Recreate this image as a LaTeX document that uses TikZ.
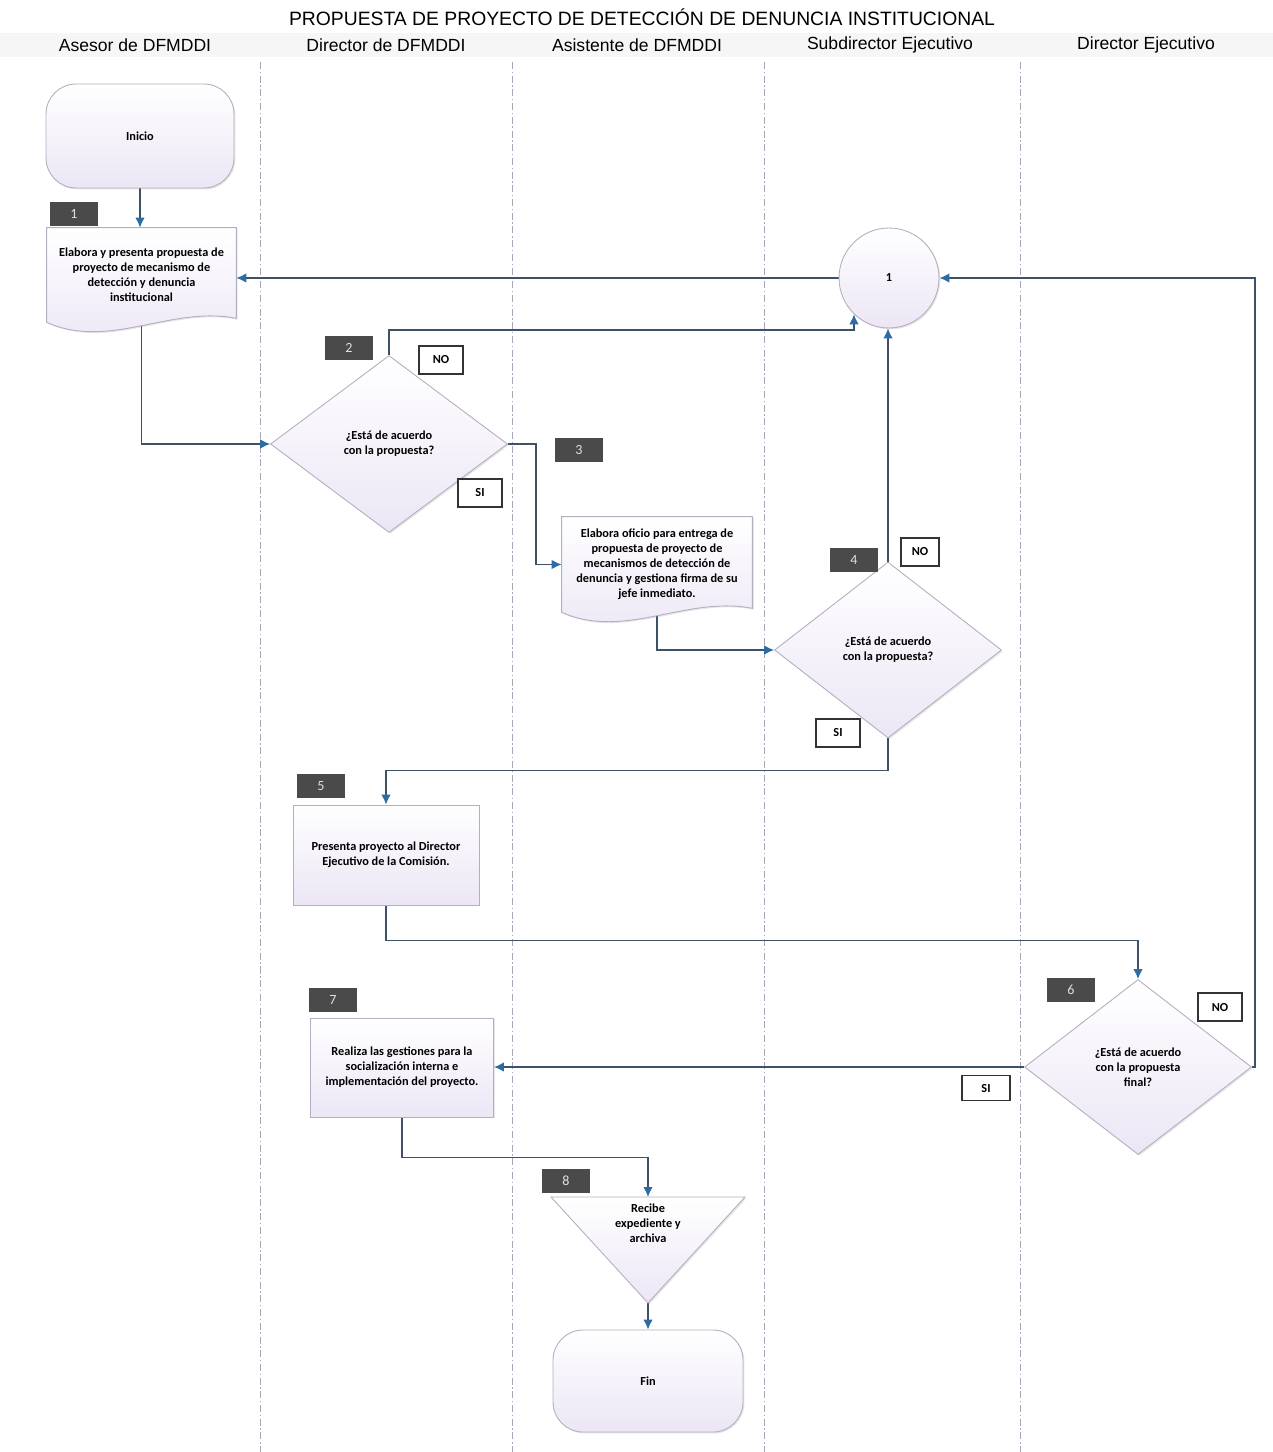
\documentclass[tikz,border=0pt]{standalone}
\usepackage{fontspec}
\setmainfont{Carlito}
\newfontfamily\arialfam{Liberation Sans}
\usepackage{tikz}
\usetikzlibrary{positioning, arrows.meta, shapes.geometric, shapes.misc, calc, backgrounds, shadows}
\definecolor{conector}{HTML}{3D5266}
\definecolor{punta}{HTML}{2C6CA3}
\definecolor{etiqueta}{HTML}{4A4A4A}
\definecolor{borde}{HTML}{B4AEC0}
\definecolor{relleno}{HTML}{ECE6F5}
\definecolor{colorcarril}{HTML}{A9A6B8}
\tikzset{
	>={Latex[length=2mm, width=1.9mm, color=punta]},
	% texto de las formas
	textoforma/.style={font=\bfseries\fontsize{7}{8.5}\selectfont, align=center, text=black},
	% relleno con degradado
	degradado/.style={top color=white, bottom color=relleno, draw=borde, line width=0.5pt,
	                  drop shadow={shadow xshift=0.8pt, shadow yshift=-0.8pt, opacity=0.2}},
	% inicio / fin
	terminal/.style={degradado, textoforma, rectangle, rounded corners=0.6cm,
	                 minimum width=3.76cm, minimum height=2.08cm},
	% actividad
	actividad/.style={degradado, textoforma, rectangle, minimum width=3.7cm, minimum height=2cm},
	% documento: solo el texto, el contorno va aparte
	documento/.style={textoforma, rectangle, minimum width=3.8cm, minimum height=1.9cm, inner sep=1pt},
	% decision
	decision/.style={degradado, textoforma, diamond, minimum width=4.54cm, minimum height=3.52cm,
	                 inner sep=0pt},
	% conector de pagina
	enlace/.style={degradado, textoforma, circle, minimum size=2cm},
	% numero de paso
	paso/.style={rectangle, fill=etiqueta, text=gray!25, minimum width=0.96cm, minimum height=0.48cm,
	             inner sep=0pt, font=\fontsize{8}{8}\selectfont},
	% respuesta SI / NO
	respuesta/.style={rectangle, draw=black!80, fill=white, line width=0.6pt, minimum width=0.88cm,
	                  minimum height=0.56cm, inner sep=0pt, font=\bfseries\fontsize{7}{7}\selectfont},
	% flujo
	flujo/.style={->, draw=conector, line width=0.8pt},
	% encabezados
	titulo/.style={font=\arialfam\fontsize{11}{13}\selectfont},
	carril/.style={font=\arialfam\fontsize{10}{12}\selectfont},
	divisor/.style={draw=colorcarril, line width=0.5pt, dash pattern=on 4pt off 1.5pt on 0.8pt off 1.5pt},
	banda/.style={fill=gray!7},
}

\begin{document}
\begin{tikzpicture}[x=0.02cm, y=-0.02cm]
    \useasboundingbox (0,0) rectangle (1273,1452);

    % titulo y carriles
    \node[titulo] (tit) at (642,17) {PROPUESTA DE PROYECTO DE DETECCIÓN DE DENUNCIA INSTITUCIONAL};
    \node[carril] (asesor) at (135,45) {Asesor de DFMDDI};
    \node[carril] (director) at (386,45) {Director de DFMDDI};
    \node[carril] (asistente) at (637,45) {Asistente de DFMDDI};
    \node[carril] (subdir) at (890,45) {Subdirector Ejecutivo};
    \node[carril] (direje) at (1146,45) {Director Ejecutivo};

    % formas
    \node[terminal] (ini) at (140,136) {Inicio};
    \node[documento, minimum width=3.78cm, minimum height=1.88cm] (s1) at (141.5,275)
        {Elabora y presenta propuesta de\\proyecto de mecanismo de\\detección y denuncia\\institucional};
    \node[enlace] (con) at (889,278) {1};
    \node[decision, minimum width=4.74cm, minimum height=3.54cm] (d2) at (389,444)
        {¿Está de acuerdo\\con la propuesta?};
    \node[documento] (s3) at (657,564.5)
        {Elabora oficio para entrega de\\propuesta de proyecto de\\mecanismos de detección de\\denuncia y gestiona firma de su\\jefe inmediato.};
    \node[decision] (d4) at (888,650) {¿Está de acuerdo\\con la propuesta?};
    \node[actividad, minimum width=3.72cm] (s5) at (386,855)
        {Presenta proyecto al Director\\Ejecutivo de la Comisión.};
    \node[decision, minimum height=3.5cm] (d6) at (1138,1067)
        {¿Está de acuerdo\\con la propuesta\\final?};
    \node[actividad, minimum width=3.66cm, minimum height=1.98cm] (s7) at (402,1067.5)
        {Realiza las gestiones para la\\socialización interna e\\implementación del proyecto.};
    \node[textoforma] (p8) at (648,1223) {Recibe\\expediente y\\archiva};
    \coordinate (p8arriba) at ($(p8)+(0,-26)$);
    \coordinate (p8punta) at ($(p8)+(0,80)$);
    \node[terminal, minimum width=3.8cm, minimum height=2.04cm] (fin) at (648,1381) {Fin};

    % numeros de paso
    \node[paso] (n1) at (74,214) {1};
    \node[paso] (n2) at (349,348) {2};
    \node[paso] (n3) at (579,450) {3};
    \node[paso] (n4) at (854,560) {4};
    \node[paso] (n5) at (321,786) {5};
    \node[paso] (n6) at (1071,990) {6};
    \node[paso] (n7) at (333,1000) {7};
    \node[paso] (n8) at (566,1181) {8};

    % respuestas
    \node[respuesta] (no2) at (441,360) {NO};
    \node[respuesta] (si2) at (480,493) {SI};
    \node[respuesta, minimum width=0.76cm] (no4) at (920,552) {NO};
    \node[respuesta] (si4) at (838,733) {SI};
    \node[respuesta] (no6) at (1220,1007) {NO};
    \node[respuesta, minimum width=0.96cm, minimum height=0.5cm] (si6) at (986,1088) {SI};

    \begin{scope}[on background layer]
        \fill[banda] (0,33) rectangle (1273,57);
        \foreach \x in {260,512,764,1020}
            \draw[divisor] (\x,62) -- (\x,1452);

        % conectores
        \draw[flujo] (ini.south) -- (ini.south |- s1.north);
        \draw[flujo] (con.west) -- (con.west -| s1.east);
        \draw[flujo] (s1.south) |- (d2.west);
        \draw[flujo] (d2.north) -- ++(0,-25) -| (con.226);
        \draw[flujo] (d2.east) -- ++(28,0) |- (s3.west);
        \draw[flujo] (s3.south) |- (d4.west);
        \draw[flujo] (d4.north) -- (d4.north |- con.south);
        \draw[flujo] (d4.south) -- ++(0,32) -| (s5.north);
        \draw[flujo] (s5.south) -- ++(0,35) -| (d6.north);
        \draw[flujo] (d6.east) -- ++(3,0) |- (con.east);
        \draw[flujo] (d6.west) -- (d6.west -| s7.east);
        \draw[flujo] (s7.south) -- ++(0,40) -| (p8arriba);
        \draw[flujo] (p8punta) -- (fin.north);

        % contornos de documento y de archivo
        \draw[degradado] (s1.south west) -- (s1.north west) -- (s1.north east)
            -- ($(s1.south east)+(0,-4)$) .. controls +(-66,-13) and +(63,28) .. (s1.south west) -- cycle;
        \draw[degradado] (s3.south west) -- (s3.north west) -- (s3.north east)
            -- ($(s3.south east)+(0,-4)$) .. controls +(-66,-13) and +(63,28) .. (s3.south west) -- cycle;
        \draw[degradado] ($(p8)+(-97,-26)$) -- ($(p8)+(97,-26)$) -- (p8punta) -- cycle;
    \end{scope}
\end{tikzpicture}
\end{document}
